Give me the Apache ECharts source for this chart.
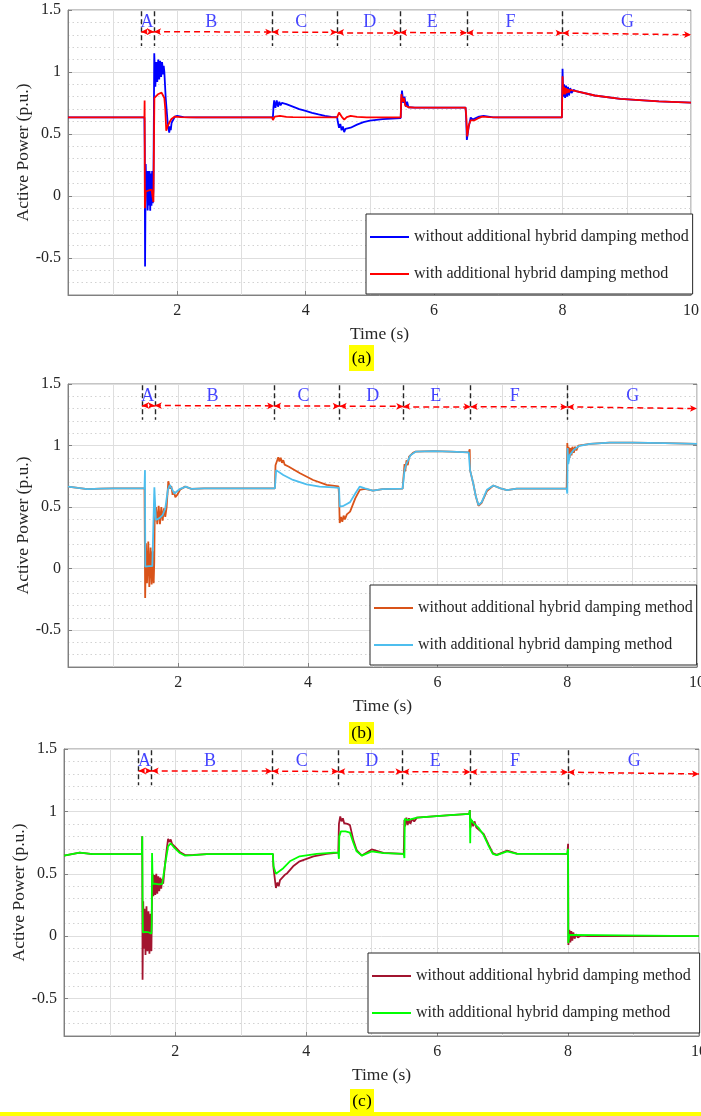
<!DOCTYPE html>
<html>
<head>
<meta charset="utf-8">
<title>Active Power</title>
<script src="https://cdn.jsdelivr.net/npm/echarts@6/dist/echarts.min.js"></script>
<style>
  html, body { margin: 0; padding: 0; background: #fff; }
  #chart { width: 701px; height: 1116px; }
</style>
</head>
<body>
<div id="chart"></div>
<script>
// stage boundaries (s), stage names and where their letters sit
const stageBounds = [1.44, 1.64, 3.48, 4.49, 5.47, 6.51, 8.0, 10];
const stageNames = ['A', 'B', 'C', 'D', 'E', 'F', 'G'];
const stageLabelT = [1.53, 2.53, 3.93, 5.0, 5.97, 7.19, 9.01];
const stageArrowY = [1.325, 1.325, 1.322, 1.32, 1.318, 1.316, 1.314, 1.30];

const withoutName = 'without additional hybrid damping method';
const withName = 'with additional hybrid damping method';

// (a)
const aWithout = [[0.3,0.633],[1.49,0.633],[1.495,0.39],[1.50,-0.57],[1.51,0.257],[1.52,0.03],[1.53,0.20],[1.54,-0.118],[1.55,0.20],[1.56,-0.078],[1.57,0.2],[1.58,-0.12],[1.59,0.18],[1.60,-0.08],[1.61,0.2],[1.62,-0.06],[1.63,0.05],[1.643,1.15],[1.66,0.88],[1.675,1.08],[1.69,0.92],[1.705,1.10],[1.72,0.94],[1.735,1.09],[1.75,0.96],[1.765,1.08],[1.78,0.98],[1.79,1.05],[1.80,1.0],[1.82,0.8],[1.85,0.6],[1.876,0.51],[1.89,0.56],[1.90,0.53],[1.913,0.59],[1.93,0.6],[1.964,0.64],[2.0,0.645],[2.1,0.636],[2.3,0.633],
  [3.49,0.633],[3.50,0.72],[3.51,0.77],[3.53,0.71],[3.55,0.77],[3.57,0.72],[3.59,0.76],[3.61,0.73],[3.63,0.75],[3.66,0.735],[3.7,0.74],[3.8,0.72],[3.9,0.70],[4.0,0.685],[4.1,0.67],[4.2,0.657],[4.3,0.645],[4.4,0.638],[4.49,0.635],
  [4.50,0.60],[4.52,0.55],[4.54,0.58],[4.56,0.53],[4.58,0.56],[4.60,0.515],[4.62,0.54],[4.65,0.53],[4.7,0.55],[4.8,0.575],[4.9,0.595],[5.0,0.607],[5.2,0.62],[5.48,0.628],
  [5.49,0.78],[5.50,0.85],[5.52,0.75],[5.54,0.80],[5.56,0.72],[5.58,0.76],[5.60,0.715],[5.62,0.725],[5.7,0.712],[6.49,0.712],
  [6.50,0.62],[6.51,0.452],[6.54,0.56],[6.57,0.632],[6.60,0.615],[6.63,0.62],[6.70,0.64],[6.77,0.645],[6.92,0.633],[7.99,0.633],
  [8.0,1.026],[8.01,0.80],[8.025,0.90],[8.04,0.79],[8.055,0.89],[8.07,0.80],[8.085,0.88],[8.10,0.81],[8.12,0.87],[8.14,0.83],[8.17,0.855],[8.21,0.845],[8.5,0.81],[8.9,0.782],[9.5,0.762],[10,0.753]];
const aWith = [[0.3,0.633],[1.49,0.633],[1.493,0.77],[1.497,-0.10],[1.51,0.035],[1.56,0.045],[1.60,0.05],[1.625,0.055],[1.63,-0.05],[1.645,0.79],[1.67,0.805],[1.70,0.82],[1.73,0.83],[1.757,0.833],[1.78,0.82],[1.80,0.79],[1.815,0.70],[1.83,0.525],[1.85,0.56],[1.876,0.59],[1.91,0.62],[1.964,0.64],[2.05,0.636],[2.2,0.633],
  [3.48,0.633],[3.49,0.612],[3.52,0.64],[3.55,0.655],[3.6,0.645],[3.7,0.638],[3.8,0.635],[4.49,0.633],
  [4.52,0.672],[4.56,0.64],[4.60,0.615],[4.64,0.635],[4.70,0.645],[4.8,0.638],[4.95,0.633],[5.48,0.633],
  [5.49,0.82],[5.51,0.76],[5.53,0.79],[5.55,0.73],[5.57,0.745],[5.60,0.715],[5.7,0.712],[6.49,0.712],
  [6.50,0.65],[6.515,0.48],[6.54,0.57],[6.57,0.61],[6.60,0.615],[6.63,0.61],[6.68,0.625],[6.75,0.64],[6.85,0.635],[7.0,0.633],[7.99,0.633],
  [8.0,0.966],[8.01,0.82],[8.025,0.88],[8.04,0.82],[8.055,0.87],[8.07,0.83],[8.085,0.86],[8.10,0.835],[8.12,0.855],[8.15,0.845],[8.21,0.845],[8.5,0.81],[8.9,0.782],[9.5,0.762],[10,0.753]];

// (b)
const bWithout = [[0.3,0.666],[0.45,0.655],[0.6,0.645],[0.8,0.65],[1.0,0.652],[1.48,0.652],
  [1.49,-0.24],[1.502,0.205],[1.518,-0.12],[1.538,0.22],[1.554,-0.15],[1.574,0.17],[1.59,-0.13],[1.605,0.14],[1.621,-0.12],[1.63,0.05],[1.636,0.37],[1.657,0.50],[1.677,0.36],[1.698,0.51],[1.718,0.36],[1.739,0.50],[1.759,0.39],[1.78,0.49],[1.80,0.42],[1.821,0.50],[1.847,0.71],[1.873,0.65],[1.893,0.67],[1.914,0.60],[1.935,0.625],[1.955,0.58],[1.986,0.60],[2.027,0.64],[2.104,0.666],[2.207,0.647],[2.4,0.652],[3.49,0.652],
  [3.50,0.84],[3.543,0.905],[3.56,0.87],[3.58,0.90],[3.60,0.86],[3.62,0.88],[3.64,0.845],[3.7,0.83],[3.878,0.775],[4.08,0.72],[4.29,0.68],[4.47,0.668],
  [4.48,0.60],[4.49,0.37],[4.51,0.42],[4.53,0.38],[4.55,0.43],[4.57,0.40],[4.60,0.44],[4.63,0.43],[4.65,0.463],[4.73,0.57],[4.80,0.64],[4.88,0.648],[5.0,0.634],[5.15,0.645],[5.46,0.65],
  [5.48,0.65],[5.49,0.85],[5.50,0.79],[5.52,0.88],[5.54,0.84],[5.56,0.91],[5.58,0.90],[5.62,0.94],[5.66,0.95],[5.94,0.955],[6.2,0.95],[6.48,0.945],
  [6.495,0.97],[6.50,0.80],[6.55,0.69],[6.59,0.585],[6.63,0.51],[6.68,0.535],[6.76,0.63],[6.86,0.675],[6.97,0.652],[7.07,0.638],[7.22,0.65],[7.99,0.65],
  [8.0,1.02],[8.01,0.88],[8.02,0.99],[8.035,0.9],[8.05,0.98],[8.065,0.92],[8.08,0.99],[8.10,0.94],[8.12,0.99],[8.14,0.96],[8.17,1.0],[8.2,0.99],[8.25,1.005],[8.35,1.014],[8.65,1.024],[9.0,1.024],[9.5,1.02],[10,1.014]];
const bWith = [[0.3,0.666],[0.45,0.655],[0.6,0.645],[0.8,0.65],[1.0,0.652],[1.48,0.652],
  [1.487,0.80],[1.492,0.015],[1.55,0.02],[1.60,0.02],[1.628,0.02],[1.632,0.66],[1.655,0.395],[1.71,0.41],[1.76,0.435],[1.80,0.49],[1.84,0.64],[1.87,0.68],[1.91,0.64],[1.94,0.61],[2.02,0.645],[2.12,0.666],[2.2,0.647],[2.4,0.652],[3.49,0.652],
  [3.51,0.80],[3.62,0.76],[3.77,0.72],[3.98,0.685],[4.18,0.666],[4.39,0.66],[4.48,0.655],
  [4.49,0.503],[4.55,0.51],[4.6,0.525],[4.65,0.54],[4.73,0.61],[4.80,0.666],[4.88,0.652],[5.0,0.634],[5.15,0.645],[5.46,0.65],
  [5.48,0.65],[5.49,0.80],[5.51,0.84],[5.58,0.92],[5.66,0.95],[5.94,0.955],[6.2,0.95],[6.48,0.945],
  [6.50,0.80],[6.55,0.69],[6.59,0.585],[6.63,0.517],[6.68,0.54],[6.76,0.64],[6.86,0.675],[6.97,0.652],[7.07,0.638],[7.22,0.65],[7.99,0.65],
  [8.0,0.61],[8.005,0.98],[8.015,0.85],[8.04,0.924],[8.1,0.965],[8.19,0.998],[8.35,1.014],[8.65,1.024],[9.0,1.024],[9.5,1.02],[10,1.014]];

// (c)
const cWithout = [[0.3,0.646],[0.54,0.67],[0.74,0.658],[1.49,0.658],
  [1.495,0.80],[1.50,-0.35],[1.51,0.28],[1.52,-0.10],[1.53,0.22],[1.545,-0.15],[1.56,0.24],[1.575,-0.12],[1.59,0.2],[1.605,-0.14],[1.62,0.18],[1.635,-0.12],[1.645,0.35],[1.655,0.50],[1.665,0.32],[1.68,0.49],[1.695,0.33],[1.71,0.50],[1.725,0.34],[1.74,0.48],[1.755,0.36],[1.77,0.47],[1.785,0.38],[1.80,0.46],[1.815,0.42],[1.84,0.56],[1.87,0.70],[1.89,0.78],[1.91,0.755],[1.93,0.775],[1.95,0.74],[1.99,0.72],[2.07,0.675],[2.15,0.65],[2.28,0.652],[2.48,0.658],[3.49,0.66],
  [3.50,0.55],[3.537,0.386],[3.56,0.43],[3.58,0.40],[3.60,0.45],[3.63,0.44],[3.67,0.49],[3.71,0.505],[3.80,0.56],[3.90,0.60],[4.11,0.64],[4.31,0.66],[4.49,0.67],
  [4.50,0.90],[4.52,0.96],[4.54,0.92],[4.56,0.945],[4.58,0.905],[4.60,0.92],[4.63,0.90],[4.668,0.89],[4.72,0.77],[4.77,0.69],[4.85,0.646],[5.0,0.695],[5.18,0.668],[5.49,0.66],
  [5.50,0.93],[5.51,0.88],[5.53,0.95],[5.55,0.89],[5.57,0.945],[5.59,0.90],[5.62,0.94],[5.65,0.92],[5.69,0.95],[5.94,0.96],[6.2,0.97],[6.49,0.98],
  [6.50,1.01],[6.51,0.87],[6.53,0.93],[6.55,0.88],[6.57,0.92],[6.60,0.87],[6.63,0.885],[6.71,0.82],[6.79,0.73],[6.85,0.665],[6.91,0.652],[7.07,0.685],[7.22,0.662],[7.99,0.66],
  [8.0,0.74],[8.005,-0.07],[8.02,0.05],[8.035,-0.05],[8.05,0.04],[8.065,-0.035],[8.08,0.03],[8.10,-0.02],[8.12,0.015],[8.15,-0.01],[8.2,0.005],[8.3,0],[10,0]];
const cWith = [[0.3,0.646],[0.54,0.67],[0.74,0.658],[1.49,0.658],
  [1.495,0.80],[1.50,0.3],[1.505,0.03],[1.55,0.035],[1.60,0.03],[1.635,0.02],[1.64,0.1],[1.645,0.666],[1.655,0.42],[1.70,0.42],[1.75,0.415],[1.80,0.42],[1.84,0.56],[1.89,0.72],[1.93,0.745],[1.99,0.705],[2.07,0.666],[2.15,0.645],[2.28,0.65],[2.48,0.658],[3.49,0.66],
  [3.50,0.56],[3.537,0.50],[3.65,0.545],[3.75,0.60],[3.90,0.64],[4.16,0.66],[4.42,0.67],[4.49,0.672],
  [4.50,0.62],[4.505,0.80],[4.53,0.84],[4.60,0.84],[4.668,0.83],[4.72,0.75],[4.77,0.68],[4.85,0.646],[5.0,0.68],[5.18,0.665],[5.49,0.66],
  [5.50,0.626],[5.505,0.94],[5.55,0.93],[5.69,0.95],[5.94,0.96],[6.2,0.97],[6.49,0.98],
  [6.50,1.01],[6.505,0.745],[6.51,0.94],[6.55,0.91],[6.63,0.87],[6.71,0.81],[6.79,0.72],[6.85,0.66],[6.91,0.65],[7.07,0.68],[7.22,0.66],[7.99,0.66],
  [8.0,0.70],[8.003,-0.055],[8.02,0.01],[8.05,0.0],[10,0]];

const FONT = 'Liberation Serif';
const TXT = '#262626';

const panels = [
  { key: 'a', grid: { left: 68, top: 10, width: 623, height: 285 }, legend: { left: 366, top: 214, padRight: 4 },
    colors: ['#0000ff', '#ff0000'], data: [aWithout, aWith], cap: { x: 349, y: 345, w: 25, h: 26, text: '(a)' } },
  { key: 'b', grid: { left: 68, top: 384, width: 629, height: 283 }, legend: { left: 370, top: 585, padRight: 4 },
    colors: ['#d95319', '#4dbeee'], data: [bWithout, bWith], cap: { x: 349, y: 722, w: 25, h: 22, text: '(b)' } },
  { key: 'c', grid: { left: 64, top: 749, width: 635, height: 287 }, legend: { left: 368, top: 953, padRight: 9 },
    colors: ['#a2142f', '#00ff00'], data: [cWithout, cWith], cap: { x: 350, y: 1089, w: 24, h: 27, text: '(c)' } }
];

const grids = [], xAxes = [], yAxes = [], yRight = [], legends = [], series = [], graphics = [];

panels.forEach(function (p, i) {
  grids.push(Object.assign({ show: true, borderColor: '#8a8a8a', borderWidth: 1, containLabel: false, outerBoundsMode: 'none' }, p.grid));

  xAxes.push({
    type: 'value', gridIndex: i, min: 0.3, max: 10, splitNumber: 5,
    name: 'Time (s)', nameLocation: 'middle', nameGap: 30,
    nameTextStyle: { fontFamily: FONT, fontSize: 17.5, color: TXT },
    axisLine: { onZero: false, lineStyle: { color: '#808080' } },
    axisTick: { inside: true, length: 4, lineStyle: { color: '#808080' } },
    axisLabel: { fontFamily: FONT, fontSize: 16, color: TXT, margin: 8, showMinLabel: false },
    splitLine: { show: true, lineStyle: { color: '#dedede', width: 1 } },
    minorTick: { show: false, splitNumber: 2 },
    minorSplitLine: { show: true, lineStyle: { color: '#dedede', width: 1 } }
  });

  yAxes.push({
    type: 'value', gridIndex: i, min: -0.8, max: 1.5, splitNumber: 5,
    name: 'Active Power (p.u.)', nameLocation: 'middle', nameGap: 36, nameMoveOverlap: false,
    nameTextStyle: { fontFamily: FONT, fontSize: 17.5, color: TXT },
    axisLine: { show: true, onZero: false, lineStyle: { color: '#808080' } },
    axisTick: { show: true, inside: true, length: 4, lineStyle: { color: '#808080' } },
    axisLabel: { fontFamily: FONT, fontSize: 16, color: TXT, margin: 7, showMinLabel: false },
    splitLine: { show: true, lineStyle: { color: '#dedede', width: 1 } },
    minorTick: { show: false, splitNumber: 5 },
    minorSplitLine: { show: true, lineStyle: { color: '#d2d2d2', width: 1, type: [1.5, 3] } }
  });
  // right-hand box ticks only
  yRight.push({
    type: 'value', gridIndex: i, position: 'right', min: -0.8, max: 1.5, splitNumber: 5,
    axisLine: { show: false }, axisLabel: { show: false }, splitLine: { show: false },
    axisTick: { show: true, inside: true, length: 4, lineStyle: { color: '#808080' } }
  });

  legends.push({
    orient: 'vertical', left: p.legend.left, top: p.legend.top,
    data: [p.key + '|' + withoutName, p.key + '|' + withName],
    formatter: function (n) { return n.split('|')[1]; },
    icon: 'rect', itemWidth: 39, itemHeight: 2, itemGap: 17,
    padding: [13, p.legend.padRight, 10, 4],
    backgroundColor: '#ffffff', borderColor: '#262626', borderWidth: 1,
    selectedMode: false,
    textStyle: { fontFamily: FONT, fontSize: 16, color: TXT, lineHeight: 20 }
  });

  series.push({
    name: p.key + '|' + withoutName, type: 'line', xAxisIndex: i, yAxisIndex: i,
    data: p.data[0], symbol: 'none', showSymbol: false, color: p.colors[0],
    lineStyle: { width: 1.8 }, z: 3
  });
  series.push({
    name: p.key + '|' + withName, type: 'line', xAxisIndex: i, yAxisIndex: i,
    data: p.data[1], symbol: 'none', showSymbol: false, color: p.colors[1],
    lineStyle: { width: 1.8 }, z: 4
  });

  // stage borders (black dashed)
  series.push({
    type: 'line', xAxisIndex: i, yAxisIndex: i, data: [], z: 5,
    markLine: {
      silent: true, animation: false, symbol: ['none', 'none'], label: { show: false },
      lineStyle: { color: '#262626', type: [5, 3], width: 1.4 },
      data: stageBounds.slice(0, 7).map(function (t) { return [{ coord: [t, 1.49] }, { coord: [t, 1.21] }]; })
    }
  });
  // red double arrows between the borders
  series.push({
    type: 'line', xAxisIndex: i, yAxisIndex: i, data: [], z: 6, color: '#ff0000',
    markLine: {
      silent: true, animation: false, symbol: ['arrow', 'arrow'], symbolSize: [5, 7], label: { show: false },
      itemStyle: { color: '#ff0000' },
      lineStyle: { color: '#ff0000', type: [6, 4], width: 1.5, opacity: 1 },
      data: stageNames.map(function (s, k) {
        return [
          { coord: [stageBounds[k], stageArrowY[k]] },
          { coord: [stageBounds[k + 1], stageArrowY[k + 1]] }
        ];
      })
    }
  });
  series.push({
    type: 'scatter', xAxisIndex: i, yAxisIndex: i, z: 6, silent: true,
    data: stageLabelT.map(function (t) { return [t, 1.40]; }),
    symbolSize: 1, itemStyle: { color: 'rgba(0,0,0,0)' },
    label: {
      show: true, position: 'inside', color: '#1414ff', fontFamily: FONT, fontSize: 18,
      formatter: function (q) { return stageNames[q.dataIndex]; }
    }
  });

  graphics.push({ type: 'rect', shape: { x: p.cap.x, y: p.cap.y, width: p.cap.w, height: p.cap.h }, style: { fill: '#ffff00' } });
  graphics.push({
    type: 'text', x: p.cap.x + p.cap.w / 2, y: p.cap.y + p.cap.h / 2 + (i === 2 ? -1 : 0),
    style: { text: p.cap.text, font: '17.5px "Liberation Serif"', fill: '#000', align: 'center', verticalAlign: 'middle' }
  });
});

graphics.push({ type: 'rect', shape: { x: 0, y: 1112, width: 701, height: 4 }, style: { fill: '#ffff00' } });

const chart = echarts.init(document.getElementById('chart'), null, { renderer: 'canvas' });
chart.setOption({
  animation: false,
  backgroundColor: '#ffffff',
  textStyle: { fontFamily: FONT },
  grid: grids,
  xAxis: xAxes,
  yAxis: yAxes.concat(yRight),
  legend: legends,
  series: series,
  graphic: graphics
});
</script>
</body>
</html>
